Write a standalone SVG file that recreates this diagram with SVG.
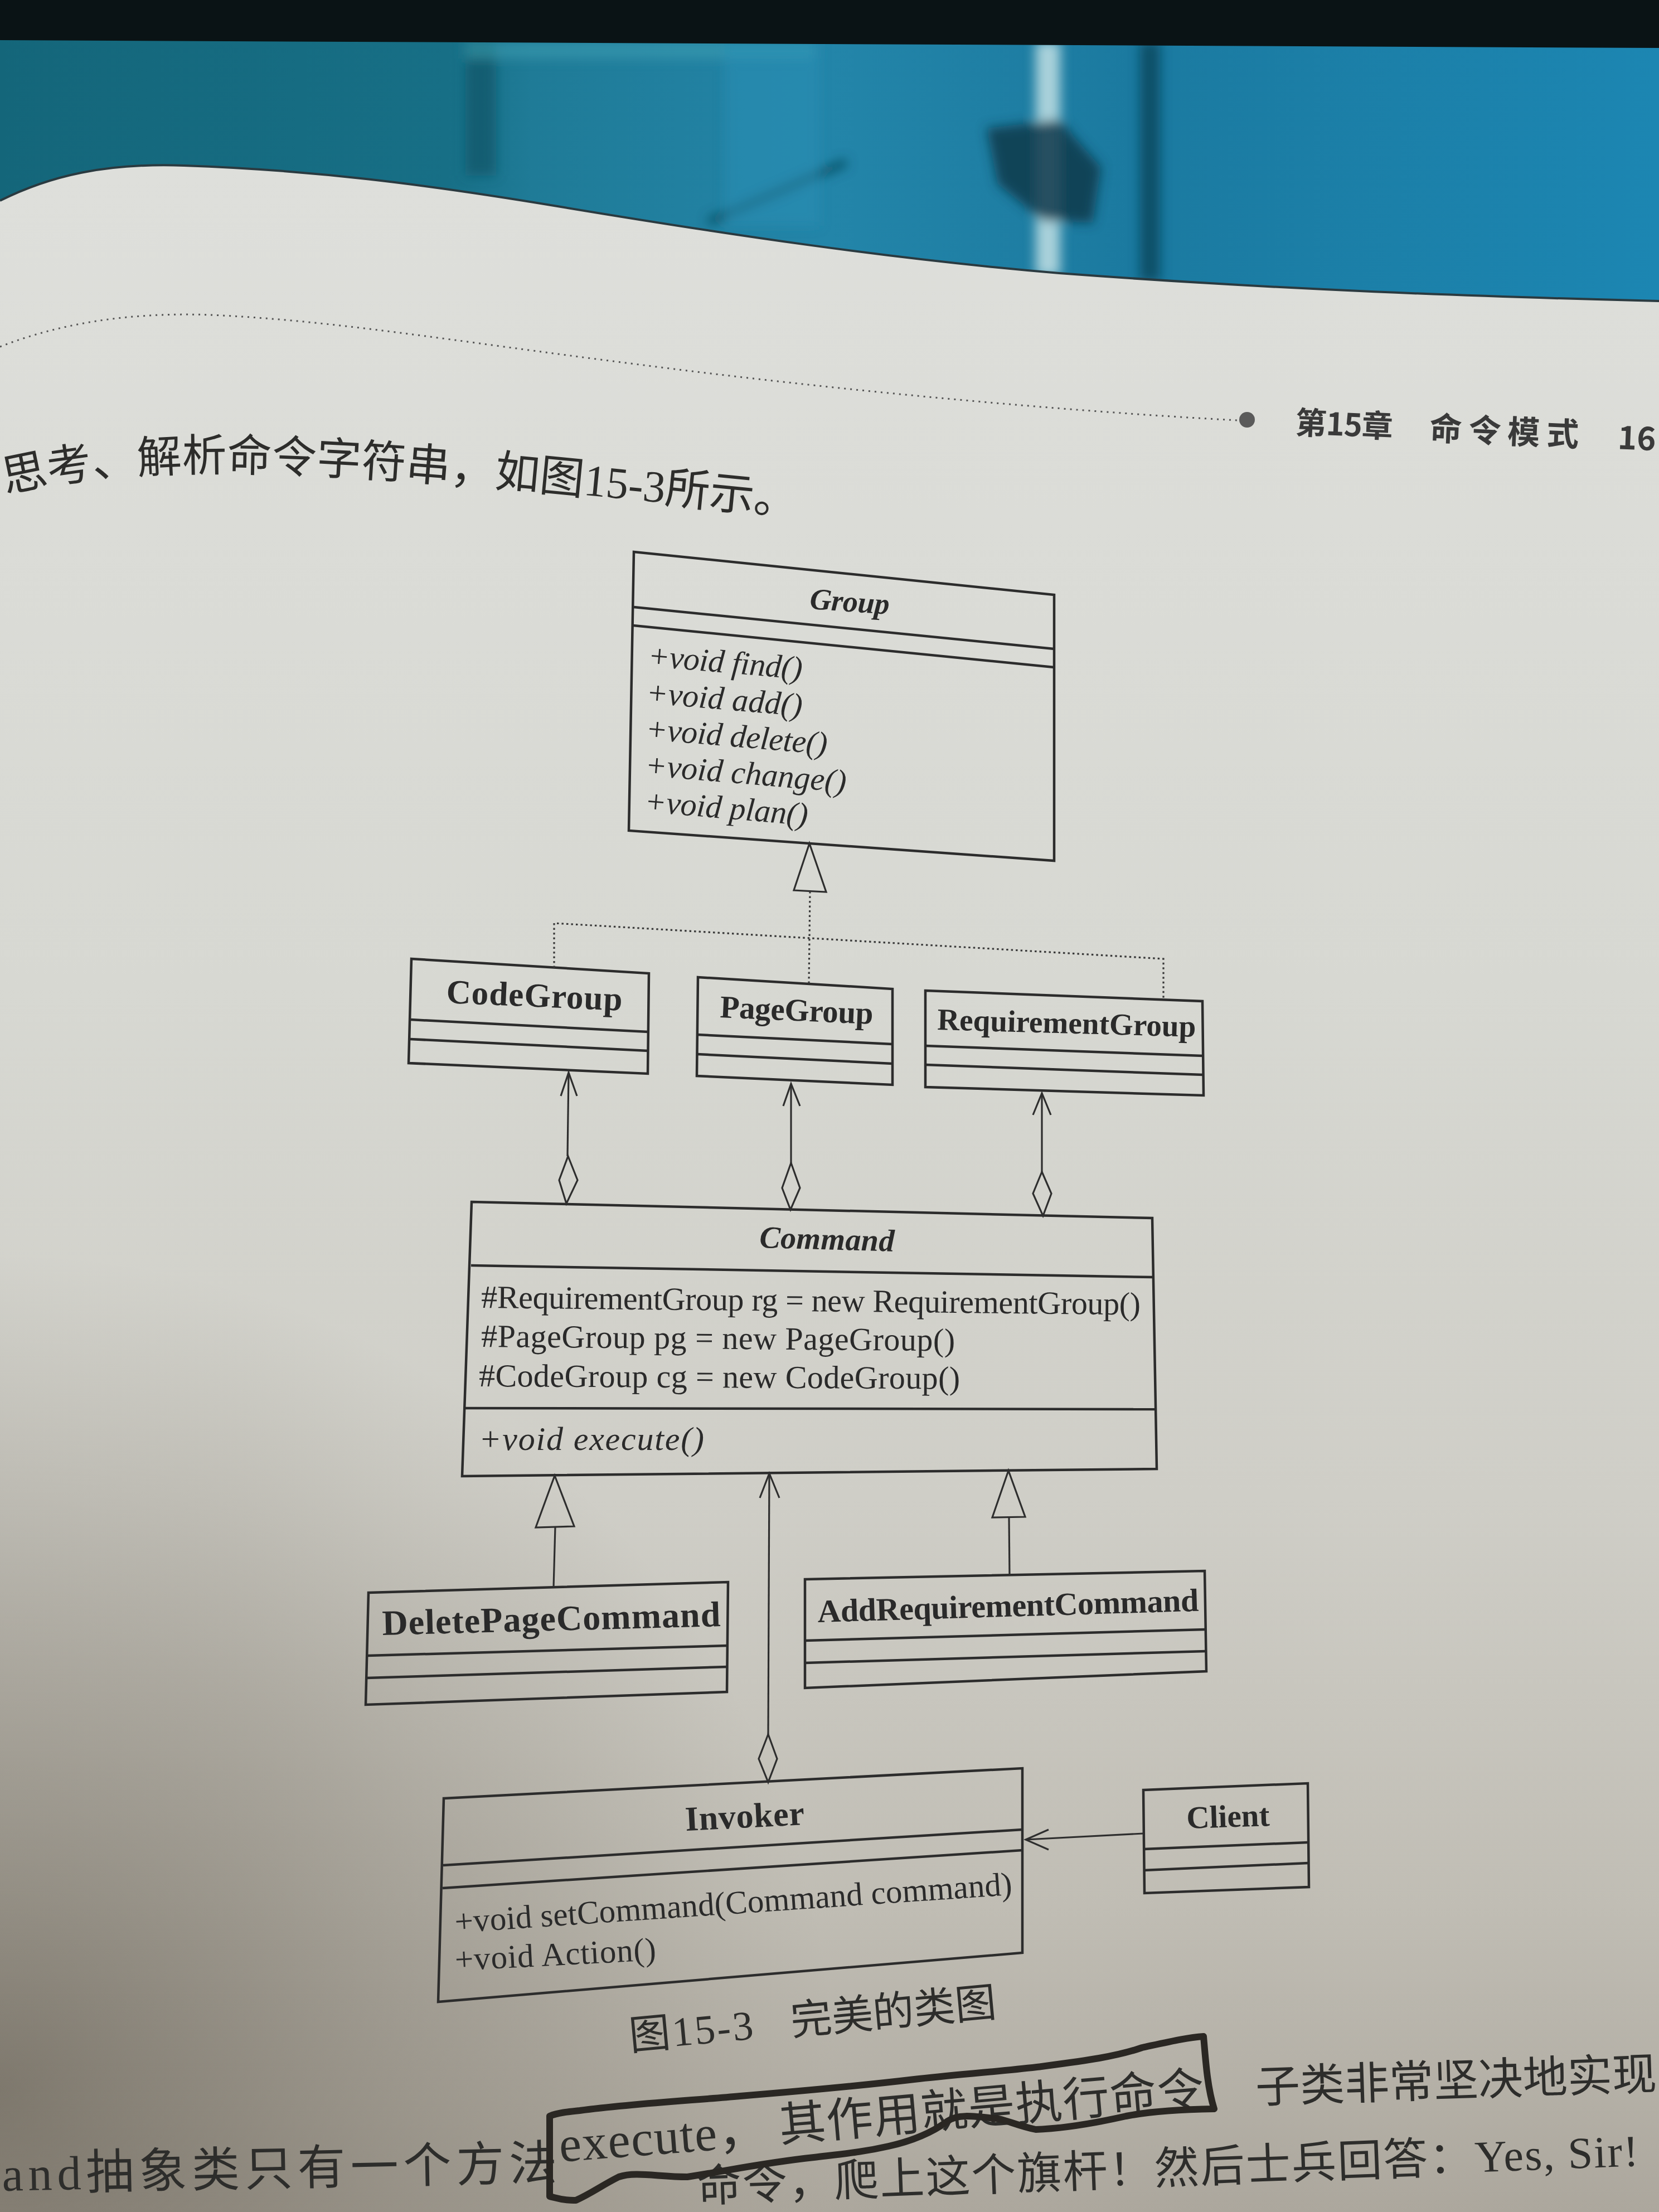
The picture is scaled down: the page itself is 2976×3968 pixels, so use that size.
<svg xmlns="http://www.w3.org/2000/svg" width="2976" height="3968" viewBox="0 0 2976 3968">
  <defs>
    <style>
      .box { fill: none; stroke: #2c2c2c; stroke-width: 4.5; stroke-linejoin: miter; }
      .sep { fill: none; stroke: #2c2c2c; stroke-width: 4.5; }
      .conn { fill: none; stroke: #2e2e2e; stroke-width: 3.2; stroke-linejoin: miter; }
      .dotted { fill: none; stroke: #3a3a3a; stroke-width: 3.2; stroke-dasharray: 3.5 5; }
      .uml { font-family: "Liberation Serif", "Times New Roman", serif; fill: #2a2a2a; }
      .bold { font-weight: bold; }
      .ital { font-style: italic; }
      .book { font-family: "Liberation Serif", "Noto Sans CJK SC", serif; fill: #2d2d2b; }
      .head { font-family: "Noto Sans CJK SC", sans-serif; font-weight: bold; fill: #3a3a3a; }
    </style>
    <linearGradient id="wall" x1="0" y1="0" x2="2976" y2="0" gradientUnits="userSpaceOnUse">
      <stop offset="0" stop-color="#14667a"/>
      <stop offset="0.27" stop-color="#176f86"/>
      <stop offset="0.32" stop-color="#1f7b97"/>
      <stop offset="0.5" stop-color="#2385a9"/>
      <stop offset="0.68" stop-color="#1b7aa0"/>
      <stop offset="1" stop-color="#1c86b2"/>
    </linearGradient>
    <linearGradient id="paper" x1="0" y1="300" x2="0" y2="3968" gradientUnits="userSpaceOnUse">
      <stop offset="0" stop-color="#dedfdb"/>
      <stop offset="0.4" stop-color="#d7d8d2"/>
      <stop offset="0.65" stop-color="#cfcec7"/>
      <stop offset="0.85" stop-color="#c0bdb4"/>
      <stop offset="1" stop-color="#aca79d"/>
    </linearGradient>
    <radialGradient id="shade" cx="0" cy="3750" r="1500" gradientUnits="userSpaceOnUse">
      <stop offset="0" stop-color="#5a5347" stop-opacity="0.6"/>
      <stop offset="0.55" stop-color="#6d665a" stop-opacity="0.3"/>
      <stop offset="1" stop-color="#7a7366" stop-opacity="0"/>
    </radialGradient>
    <filter id="soft" x="-5%" y="-5%" width="110%" height="110%">
      <feGaussianBlur stdDeviation="10"/>
    </filter>
  </defs>

  <!-- out-of-focus background behind the book -->
  <g id="backdrop">
    <rect x="0" y="0" width="2976" height="620" fill="url(#wall)"/>
    <g filter="url(#soft)">
      <rect x="835" y="75" width="55" height="240" fill="#0f5566" opacity="0.7"/>
      <rect x="835" y="75" width="625" height="30" fill="#3fa0b3" opacity="0.55"/>
      <rect x="1858" y="75" width="44" height="420" fill="#a9d1da"/>
      <path d="M1770,230 L1900,215 L1975,300 L1960,400 L1870,395 L1790,330 Z" fill="#12384a" opacity="0.85"/>
      <rect x="2045" y="75" width="36" height="430" fill="#0e5068"/>
      <path d="M1271,398 L1518,291" stroke="#0f4a5c" stroke-width="12"/>
      <rect x="1300" y="75" width="170" height="330" fill="#2a90b6" opacity="0.5"/>
    </g>
    <path d="M0,0 H2976 V86 L0,72 Z" fill="#0a1315"/>
  </g>

  <!-- page -->
  <path id="page" d="M0,360 C90,315 190,292 330,297 C560,305 760,330 1000,370 C1300,420 1600,465 1900,490 C2300,520 2650,532 2976,540 L2976,3968 L0,3968 Z" fill="url(#paper)"/>
  <path d="M0,360 C90,315 190,292 330,297 C560,305 760,330 1000,370 C1300,420 1600,465 1900,490 C2300,520 2650,532 2976,540 L2976,3968 L0,3968 Z" fill="url(#shade)"/>
  <path d="M0,360 C90,315 190,292 330,297 C560,305 760,330 1000,370 C1300,420 1600,465 1900,490 C2300,520 2650,532 2976,540" fill="none" stroke="#2a3a40" stroke-width="4"/>

  <!-- running header -->
  <g id="header">
    <path d="M0,622 C120,575 250,560 380,565 C600,575 800,610 1139,653 C1500,700 1900,737 2220,754" fill="none" stroke="#555" stroke-width="3" stroke-dasharray="3 8"/>
    <circle cx="2237" cy="753" r="14" fill="#5a5a5a"/>
    <g transform="rotate(2.4 2323 778)">
      <text class="head" x="2323" y="778" font-size="56" textLength="175">第15章</text>
      <text class="head" x="2564" y="779" font-size="58" textLength="268">命令模式</text>
      <text class="head" x="2902" y="781" font-size="58">16</text>
    </g>
  </g>

  <!-- lead-in sentence -->
  <path id="introLine" d="M10,885 C130,856 265,845 405,845 C705,848 1005,885 1425,925" fill="none"/>
  <text class="book" font-size="80"><textPath href="#introLine">思考、解析命令字符串，如图15-3所示。</textPath></text>

  <!-- class nodes -->
  <g id="node-group">
    <polygon class="box" points="1137,990 1891,1067 1891,1544 1128,1490"/>
    <line class="sep" x1="1137" y1="1089" x2="1891" y2="1164"/>
    <line class="sep" x1="1136" y1="1122" x2="1891" y2="1197"/>
    <text class="uml bold ital" x="1523" y="1097" font-size="54" text-anchor="middle" textLength="143" transform="rotate(4 1523 1097)">Group</text>
    <text class="uml ital" x="1161" y="1195" font-size="58" textLength="278" transform="rotate(4.8 1161 1195)">+void find()</text>
    <text class="uml ital" x="1158" y="1261" font-size="58" textLength="281" transform="rotate(4.8 1158 1261)">+void add()</text>
    <text class="uml ital" x="1157" y="1326" font-size="58" textLength="327" transform="rotate(4.8 1157 1326)">+void delete()</text>
    <text class="uml ital" x="1156" y="1391" font-size="58" textLength="362" transform="rotate(4.8 1156 1391)">+void change()</text>
    <text class="uml ital" x="1155" y="1456" font-size="58" textLength="294" transform="rotate(4.8 1155 1456)">+void plan()</text>
  </g>

  <g id="node-codegroup">
    <polygon class="box" points="738,1720 1164,1746 1162,1926 733,1907"/>
    <line class="sep" x1="737" y1="1829" x2="1163" y2="1851"/>
    <line class="sep" x1="736" y1="1864" x2="1163" y2="1885"/>
    <text class="uml bold" x="800" y="1799" font-size="61" textLength="316" transform="rotate(2.5 800 1799)">CodeGroup</text>
  </g>

  <g id="node-pagegroup">
    <polygon class="box" points="1252,1753 1601,1774 1601,1946 1250,1930"/>
    <line class="sep" x1="1251" y1="1856" x2="1601" y2="1873"/>
    <line class="sep" x1="1251" y1="1891" x2="1601" y2="1908"/>
    <text class="uml bold" x="1291" y="1825" font-size="57" textLength="275" transform="rotate(2.5 1291 1825)">PageGroup</text>
  </g>

  <g id="node-requirementgroup">
    <polygon class="box" points="1660,1777 2157,1796 2159,1965 1660,1950"/>
    <line class="sep" x1="1660" y1="1876" x2="2158" y2="1894"/>
    <line class="sep" x1="1660" y1="1910" x2="2158" y2="1928"/>
    <text class="uml bold" x="1681" y="1847" font-size="55" textLength="464" transform="rotate(1.6 1681 1847)">RequirementGroup</text>
  </g>

  <g id="node-command">
    <polygon class="box" points="846,2156 2067,2185 2075,2635 829,2648"/>
    <line class="sep" x1="845" y1="2270" x2="2068" y2="2291"/>
    <line class="sep" x1="831" y1="2526" x2="2074" y2="2528"/>
    <text class="uml bold ital" x="1362" y="2238" font-size="56" textLength="242" transform="rotate(1.6 1362 2238)">Command</text>
    <text class="uml" x="863" y="2346" font-size="58" textLength="1183" transform="rotate(0.6 863 2346)">#RequirementGroup rg = new RequirementGroup()</text>
    <text class="uml" x="863" y="2416" font-size="58" textLength="850" transform="rotate(0.5 863 2416)">#PageGroup pg = new PageGroup()</text>
    <text class="uml" x="859" y="2487" font-size="58" textLength="863" transform="rotate(0.3 859 2487)">#CodeGroup cg = new CodeGroup()</text>
    <text class="uml ital" x="859" y="2601" font-size="60" textLength="404">+void execute()</text>
  </g>

  <g id="node-deletepagecommand">
    <polygon class="box" points="661,2857 1306,2838 1304,3035 656,3058"/>
    <line class="sep" x1="659" y1="2970" x2="1305" y2="2952"/>
    <line class="sep" x1="658" y1="3010" x2="1305" y2="2990"/>
    <text class="uml bold" x="686" y="2933" font-size="64" textLength="607" transform="rotate(-1.5 686 2933)">DeletePageCommand</text>
  </g>

  <g id="node-addrequirementcommand">
    <polygon class="box" points="1444,2833 2161,2818 2164,2998 1444,3028"/>
    <line class="sep" x1="1444" y1="2943" x2="2162" y2="2923"/>
    <line class="sep" x1="1444" y1="2983" x2="2163" y2="2962"/>
    <text class="uml bold" x="1467" y="2910" font-size="58" textLength="684" transform="rotate(-1.7 1467 2910)">AddRequirementCommand</text>
  </g>

  <g id="node-invoker">
    <polygon class="box" points="796,3226 1834,3172 1834,3503 786,3591"/>
    <line class="sep" x1="795" y1="3346" x2="1834" y2="3282"/>
    <line class="sep" x1="794" y1="3387" x2="1834" y2="3319"/>
    <text class="uml bold" x="1230" y="3284" font-size="62" textLength="214" transform="rotate(-2.9 1230 3284)">Invoker</text>
    <text class="uml" x="817" y="3467" font-size="59" textLength="1002" transform="rotate(-3.9 817 3467)">+void setCommand(Command command)</text>
    <text class="uml" x="817" y="3535" font-size="59" textLength="361" transform="rotate(-3 817 3535)">+void Action()</text>
  </g>

  <g id="node-client">
    <polygon class="box" points="2051,3211 2346,3199 2348,3385 2053,3396"/>
    <line class="sep" x1="2052" y1="3317" x2="2346" y2="3305"/>
    <line class="sep" x1="2052" y1="3355" x2="2347" y2="3342"/>
    <text class="uml bold" x="2129" y="3280" font-size="57" textLength="149" transform="rotate(-1.9 2129 3280)">Client</text>
  </g>

  <!-- relationships -->
  <g id="connectors">
    <!-- realization of Group -->
    <polygon class="conn" points="1452,1513 1424,1597 1482,1600"/>
    <path class="dotted" d="M1453,1599 L1451,1764"/>
    <path class="dotted" d="M994,1736 L994,1656 L2087,1720 L2087,1792"/>

    <!-- Command aggregates the three groups -->
    <path class="conn" d="M1020,1924 L1018,2074"/>
    <path class="conn" d="M1006,1966 L1020,1924 L1035,1966"/>
    <path class="conn" d="M1019,2074 L1036,2117 L1016,2159 L1003,2117 Z"/>

    <path class="conn" d="M1419,1944 L1419,2086"/>
    <path class="conn" d="M1405,1984 L1419,1944 L1435,1984"/>
    <path class="conn" d="M1419,2086 L1435,2131 L1418,2170 L1403,2131 Z"/>

    <path class="conn" d="M1869,1961 L1869,2102"/>
    <path class="conn" d="M1853,2000 L1869,1961 L1885,2000"/>
    <path class="conn" d="M1869,2102 L1886,2141 L1871,2181 L1853,2141 Z"/>

    <!-- concrete commands generalize Command -->
    <polygon class="conn" points="995,2647 961,2740 1030,2738"/>
    <path class="conn" d="M996,2739 L993,2848"/>
    <polygon class="conn" points="1809,2638 1780,2722 1839,2721"/>
    <path class="conn" d="M1810,2722 L1811,2826"/>

    <!-- Invoker holds a Command -->
    <path class="conn" d="M1380,2643 L1378,3111"/>
    <path class="conn" d="M1363,2687 L1380,2643 L1398,2687"/>
    <path class="conn" d="M1378,3111 L1394,3155 L1378,3197 L1361,3155 Z"/>

    <!-- Client uses Invoker -->
    <path class="conn" d="M2051,3289 L1840,3300"/>
    <path class="conn" d="M1881,3282 L1840,3300 L1881,3318"/>
  </g>

  <!-- figure caption -->
  <g id="caption" transform="rotate(-5.3 1131 3678)">
    <text class="book" x="1131" y="3678" font-size="74" textLength="223">图15-3</text>
    <text class="book" x="1422" y="3678" font-size="74" textLength="370">完美的类图</text>
  </g>

  <!-- body text below the figure -->
  <g id="body-text">
    <text class="book" x="4" y="3930" font-size="86" textLength="996" transform="rotate(-1.15 4 3930)">and抽象类只有一个方法</text>
    <text class="book" x="1005" y="3878" font-size="90" textLength="375" transform="rotate(-4.4 1005 3878)">execute，</text>
    <text class="book" x="1400" y="3842" font-size="84" textLength="765" transform="rotate(-5 1400 3842)">其作用就是执行命令</text>
    <text class="book" x="2253" y="3772" font-size="80" textLength="720" transform="rotate(-1.9 2253 3772)">子类非常坚决地实现</text>
    <text class="book" x="1251" y="3950" font-size="80" textLength="1690" transform="rotate(-2.2 1251 3950)">命令，爬上这个旗杆！然后士兵回答：Yes, Sir!</text>
    <!-- pen mark around the highlighted phrase -->
    <path d="M986,3940 L986,3796 C1000,3790 1020,3788 1040,3786 C1140,3773 1240,3768 1328,3760 C1450,3750 1556,3740 1640,3730 C1708,3722 1782,3717 1860,3708 C1943,3697 2000,3690 2049,3673 C2100,3662 2130,3655 2159,3653 C2163,3700 2166,3745 2178,3783 C2120,3784 2065,3787 2020,3796 C1971,3807 1910,3818 1858,3820 C1820,3812 1800,3800 1782,3800 C1740,3795 1717,3793 1700,3805 C1670,3827 1630,3842 1594,3850 C1550,3860 1518,3863 1460,3870 C1366,3880 1300,3895 1233,3905 C1180,3905 1140,3895 1110,3905 C1080,3920 1060,3935 1033,3947 C1010,3948 996,3942 986,3940" fill="none" stroke="#2a2723" stroke-width="12" stroke-linejoin="round" stroke-linecap="round"/>
  </g>
</svg>
